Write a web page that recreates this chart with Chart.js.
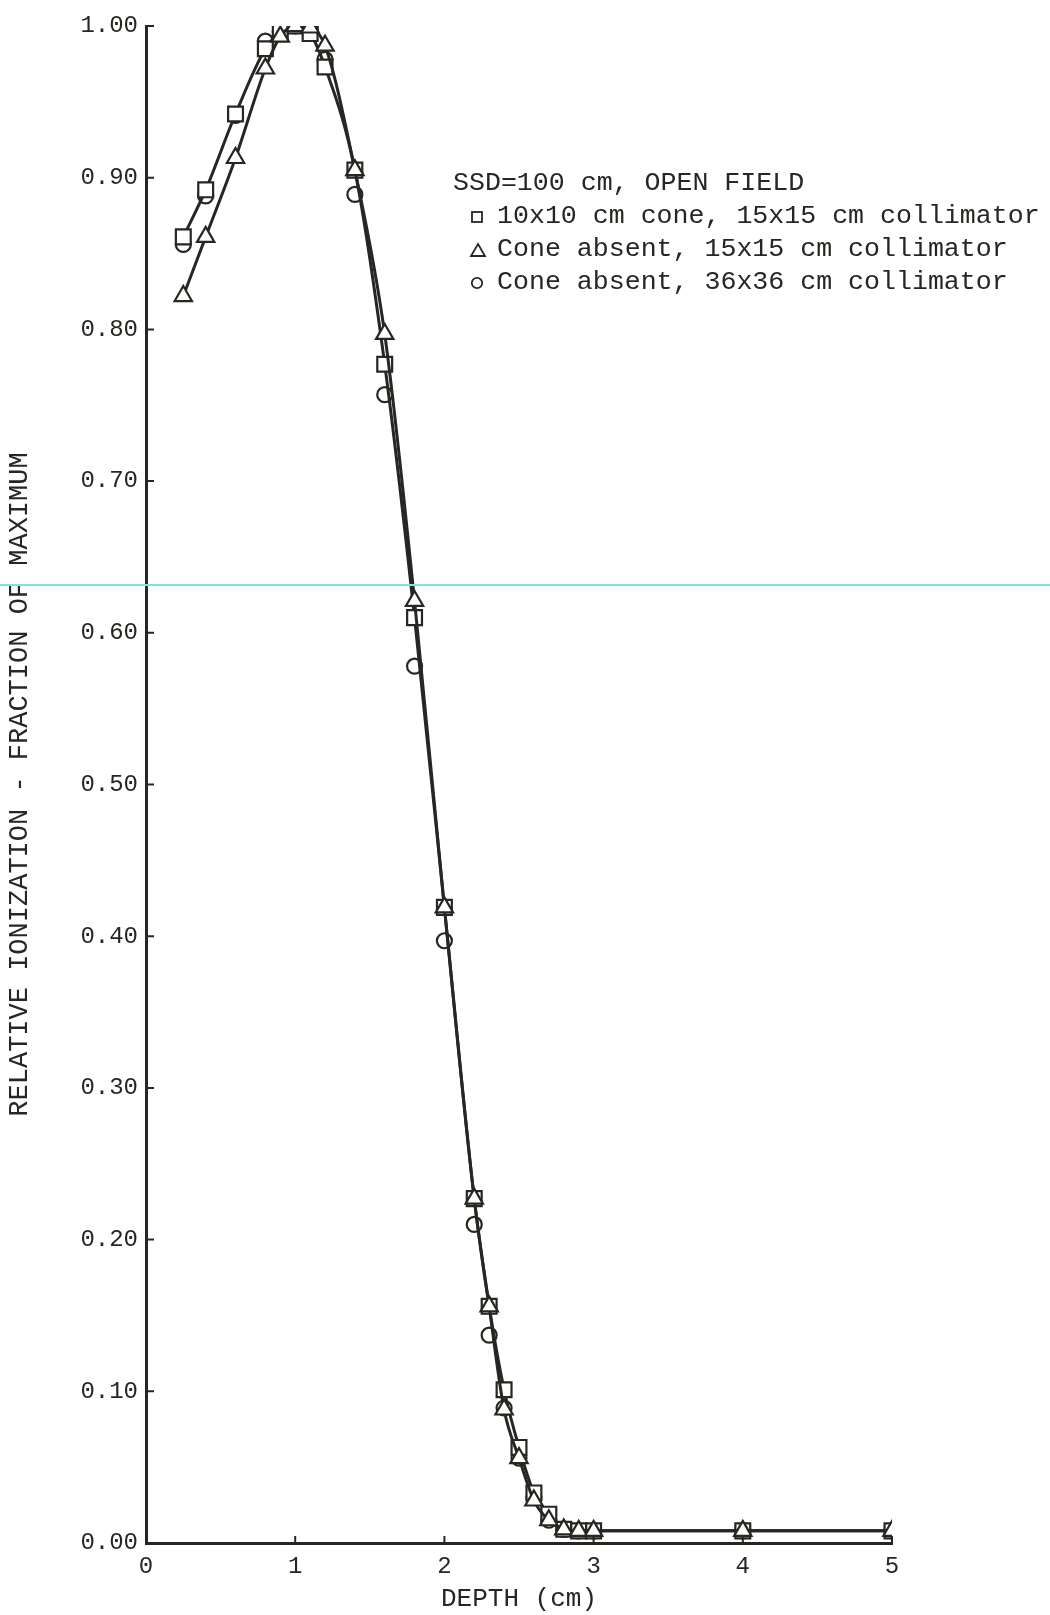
<!DOCTYPE html>
<html>
<head>
<meta charset="utf-8">
<title>Relative ionization vs depth</title>
<script src="https://cdn.jsdelivr.net/npm/chart.js@4/dist/chart.umd.min.js"></script>
<style>
  html, body { margin: 0; padding: 0; background: #ffffff; }
  #wrap { position: relative; width: 1050px; height: 1615px; overflow: hidden; }
  #chart { position: absolute; left: 0; top: 0; }
  #legend {
    position: absolute; left: 453px; top: 167px;
    font-family: "Liberation Mono", "DejaVu Sans Mono", monospace;
    font-size: 26.6px; color: #262622; line-height: 33px;
  }
  #legend .row { display: flex; align-items: center; height: 33px; white-space: pre; }
  #legend .sym { width: 28px; height: 33px; margin-left: 16px; display: inline-flex; align-items: center; }
  #legend svg { display: block; }
  #scanline {
    position: absolute; left: 0; top: 584px; width: 1050px; height: 2px;
    background: #7fe3da;
  }
</style>
</head>
<body>
<div id="wrap">
  <canvas id="chart" width="1050" height="1615"></canvas>
  <div id="scanline"></div>
  <div id="legend"><div class="row">SSD=100 cm, OPEN FIELD</div><div class="row"><span class="sym"><svg width="16" height="16"><rect x="3" y="3" width="10" height="10" fill="#fff" stroke="#262622" stroke-width="1.8"/></svg></span>10x10 cm cone, 15x15 cm collimator</div><div class="row"><span class="sym"><svg width="18" height="16"><polygon points="9,2 16,14 2,14" fill="#fff" stroke="#262622" stroke-width="1.8"/></svg></span>Cone absent, 15x15 cm collimator</div><div class="row"><span class="sym"><svg width="16" height="16"><circle cx="8" cy="8" r="5.2" fill="#fff" stroke="#262622" stroke-width="1.8"/></svg></span>Cone absent, 36x36 cm collimator</div></div>
</div>
<script>
// Depth in water (cm)
const depths = [0.25, 0.4, 0.6, 0.8, 0.9, 1.0, 1.1, 1.2, 1.4, 1.6, 1.8, 2.0, 2.2, 2.3, 2.4, 2.5, 2.6, 2.7, 2.8, 2.9, 3.0, 4.0, 5.0];

// Relative ionization, fraction of maximum
const cone10Coll15 = [0.861, 0.892, 0.942, 0.985, 0.996, 1.000, 0.995, 0.973, 0.905, 0.777, 0.610, 0.419, 0.227, 0.156, 0.101, 0.063, 0.033, 0.019, 0.009, 0.008, 0.008, 0.008, 0.008];
const noConeColl15 = [0.822, 0.861, 0.913, 0.972, 0.993, 1.000, 0.999, 0.987, 0.905, 0.797, 0.621, 0.419, 0.227, 0.156, 0.088, 0.056, 0.028, 0.015, 0.009, 0.008, 0.008, 0.008, 0.008];
const noConeColl36 = [0.856, 0.888, 0.941, 0.990, 0.996, 1.000, 0.998, 0.978, 0.889, 0.757, 0.578, 0.397, 0.210, 0.137, 0.089, 0.056, 0.030, 0.015, 0.009, 0.008, 0.008, 0.008, 0.008];

const seriesNames = [
  "10x10 cm cone, 15x15 cm collimator",
  "Cone absent, 15x15 cm collimator",
  "Cone absent, 36x36 cm collimator"
];

const xTicks = [0, 1, 2, 3, 4, 5];
const yTicks = [0, 0.1, 0.2, 0.3, 0.4, 0.5, 0.6, 0.7, 0.8, 0.9, 1.0];

const ink = "#262622";
const mono = "'Liberation Mono', 'DejaVu Sans Mono', monospace";

const pts = arr => depths.map((d, i) => ({ x: d, y: arr[i] }));

// Short tick marks drawn inward from both axes
const inwardTicks = {
  id: "inwardTicks",
  afterDatasetsDraw(chart) {
    const { ctx, chartArea, scales } = chart;
    ctx.save();
    ctx.strokeStyle = ink;
    ctx.lineWidth = 2;
    ctx.beginPath();
    yTicks.forEach(v => {
      const y = scales.y.getPixelForValue(v);
      ctx.moveTo(chartArea.left, y);
      ctx.lineTo(chartArea.left + 8, y);
    });
    xTicks.forEach(v => {
      const x = scales.x.getPixelForValue(v);
      ctx.moveTo(x, chartArea.bottom);
      ctx.lineTo(x, chartArea.bottom - 7);
    });
    ctx.stroke();
    ctx.restore();
  }
};

new Chart(document.getElementById("chart"), {
  type: "scatter",
  data: {
    datasets: [
      {
        label: seriesNames[1],
        data: pts(noConeColl15),
        showLine: true,
        cubicInterpolationMode: "monotone",
        borderColor: ink,
        borderWidth: 3,
        pointStyle: "triangle",
        pointRadius: 10,
        pointBorderWidth: 2.2,
        pointBorderColor: ink,
        pointBackgroundColor: "#ffffff",
        order: 0
      },
      {
        label: seriesNames[0],
        data: pts(cone10Coll15),
        showLine: true,
        cubicInterpolationMode: "monotone",
        borderColor: ink,
        borderWidth: 3,
        pointStyle: "rect",
        pointRadius: 10.5,
        pointBorderWidth: 2.2,
        pointBorderColor: ink,
        pointBackgroundColor: "#ffffff",
        order: 1
      },
      {
        label: seriesNames[2],
        data: pts(noConeColl36),
        showLine: false,
        pointStyle: "circle",
        pointRadius: 7.5,
        pointBorderWidth: 2.2,
        pointBorderColor: ink,
        pointBackgroundColor: "#ffffff",
        order: 2
      }
    ]
  },
  options: {
    responsive: false,
    animation: false,
    layout: { padding: { left: 0, right: 158, top: 26, bottom: 0 } },
    plugins: {
      legend: { display: false },
      tooltip: { enabled: false }
    },
    scales: {
      x: {
        type: "linear",
        min: 0, max: 5,
        afterFit: s => { s.height = 72; },
        afterBuildTicks: s => { s.ticks = xTicks.map(v => ({ value: v })); },
        grid: { display: false, drawTicks: false },
        border: { display: true, color: ink, width: 3 },
        ticks: {
          color: ink,
          padding: 9,
          font: { family: mono, size: 24 },
          callback: v => String(v)
        },
        title: {
          display: true,
          text: "DEPTH (cm)",
          color: ink,
          padding: { top: 0, bottom: 0 },
          font: { family: mono, size: 26 }
        }
      },
      y: {
        type: "linear",
        min: 0, max: 1,
        afterFit: s => { s.width = 146; },
        afterBuildTicks: s => { s.ticks = yTicks.map(v => ({ value: v })); },
        grid: { display: false, drawTicks: false },
        border: { display: true, color: ink, width: 3 },
        ticks: {
          color: ink,
          padding: 8,
          font: { family: mono, size: 24 },
          callback: v => Number(v).toFixed(2)
        },
        title: {
          display: true,
          text: "RELATIVE IONIZATION - FRACTION OF MAXIMUM",
          color: ink,
          padding: { top: 4, bottom: 0 },
          font: { family: mono, size: 27 }
        }
      }
    }
  },
  plugins: [inwardTicks]
});
</script>
</body>
</html>
